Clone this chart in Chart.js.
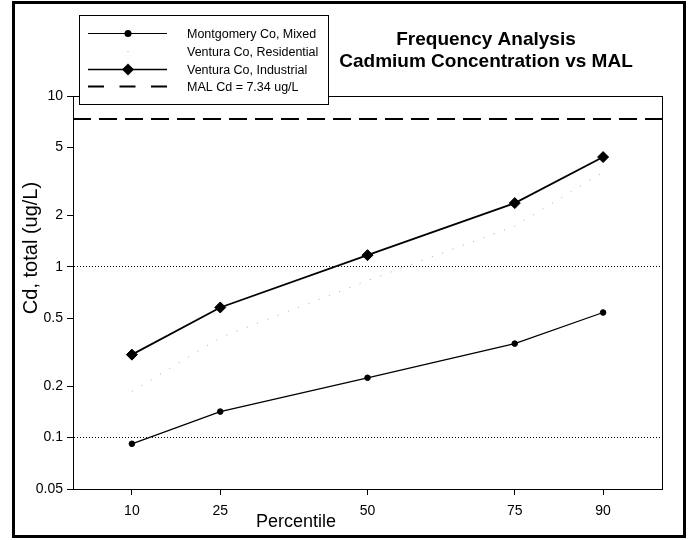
<!DOCTYPE html>
<html>
<head>
<meta charset="utf-8">
<title>Frequency Analysis - Cadmium Concentration vs MAL</title>
<script src="https://cdn.jsdelivr.net/npm/chart.js@4.4.1/dist/chart.umd.min.js"></script>
<style>
  html, body { margin: 0; padding: 0; background: #fff; }
  #wrap { width: 690px; height: 540px; }
</style>
</head>
<body>
<div id="wrap"><canvas id="grafico" width="690" height="540"></canvas></div>
<script>
// ============ DATA ============
const percentiles = [10, 25, 50, 75, 90];
const montgomeryMixed = [0.092, 0.142, 0.224, 0.355, 0.54];
const venturaResidential = [0.186, 0.385, 0.83, 1.73, 3.58];
const venturaIndustrial = [0.306, 0.578, 1.17, 2.36, 4.39];
const malValue = 7.34;
const xRange = [0, 100];
const xTicks = [10, 25, 50, 75, 90];
const yTicks = [0.05, 0.1, 0.2, 0.5, 1, 2, 5, 10];
const yGridValues = [0.1, 1];
const legendLabels = ['Montgomery Co, Mixed', 'Ventura Co, Residential', 'Ventura Co, Industrial', 'MAL Cd = 7.34 ug/L'];

const FONT = '"Liberation Sans", Arial, sans-serif';
Chart.defaults.font.family = FONT;
Chart.defaults.color = '#000';

const toPoints = vals => percentiles.map((p, i) => ({ x: p, y: vals[i] }));

// ============ PLUGINS ============
const fondo = {
    id: 'fondo',
    beforeDraw(chart) {
        const c = chart.ctx;
        c.save();
        c.fillStyle = '#fff';
        c.fillRect(0, 0, chart.width, chart.height);
        c.restore();
    }
};

const marco = {
    id: 'marco',
    afterDraw(chart) {
        const { ctx, chartArea: a } = chart;
        ctx.save();
        ctx.strokeStyle = '#000';
        ctx.setLineDash([]);

        // plot frame
        ctx.lineWidth = 1;
        ctx.strokeRect(a.left + 0.5, a.top + 0.5, a.right - a.left, a.bottom - a.top);

        // outer border
        ctx.lineWidth = 3;
        ctx.strokeRect(13.5, 2.5, 671, 534);

        // titles
        ctx.fillStyle = '#000';
        ctx.textAlign = 'center';
        ctx.textBaseline = 'alphabetic';
        ctx.font = 'bold 19px ' + FONT;
        ctx.fillText('Frequency Analysis', 486, 45);
        ctx.fillText('Cadmium Concentration vs MAL', 486, 67);

        // axis titles
        ctx.font = '18px ' + FONT;
        ctx.fillText('Percentile', 296, 527);
        ctx.save();
        ctx.translate(37, 248);
        ctx.rotate(-Math.PI / 2);
        ctx.font = '20px ' + FONT;
        ctx.fillText('Cd, total (ug/L)', 0, 0);
        ctx.restore();

        // legend box
        ctx.fillStyle = '#fff';
        ctx.fillRect(79.5, 15.5, 249, 89);
        ctx.lineWidth = 1;
        ctx.strokeRect(79.5, 15.5, 249, 89);

        const x1 = 88, x2 = 167, xm = 128;
        const rows = [33.5, 51.5, 69.5, 86.5];

        // Montgomery
        ctx.beginPath();
        ctx.moveTo(x1, rows[0]); ctx.lineTo(x2, rows[0]);
        ctx.stroke();
        ctx.fillStyle = '#000';
        ctx.beginPath();
        ctx.arc(xm, rows[0], 3.5, 0, Math.PI * 2);
        ctx.fill();

        // Residential
        ctx.fillStyle = '#aaa';
        ctx.fillRect(xm - 0.5, rows[1] - 0.5, 1, 1);

        // Industrial
        ctx.lineWidth = 1.5;
        ctx.beginPath();
        ctx.moveTo(x1, rows[2]); ctx.lineTo(x2, rows[2]);
        ctx.stroke();
        ctx.fillStyle = '#000';
        ctx.beginPath();
        ctx.moveTo(xm - 6, rows[2]);
        ctx.lineTo(xm, rows[2] - 6);
        ctx.lineTo(xm + 6, rows[2]);
        ctx.lineTo(xm, rows[2] + 6);
        ctx.closePath();
        ctx.fill();

        // MAL
        ctx.lineWidth = 2;
        ctx.setLineDash([16, 15.5]);
        ctx.beginPath();
        ctx.moveTo(x1, rows[3]); ctx.lineTo(x2, rows[3]);
        ctx.stroke();
        ctx.setLineDash([]);

        // legend text
        ctx.fillStyle = '#000';
        ctx.textAlign = 'left';
        ctx.font = '12.5px ' + FONT;
        const baselines = [38, 56, 74, 91];
        legendLabels.forEach((t, i) => ctx.fillText(t, 187, baselines[i]));

        ctx.restore();
    }
};

// ============ CHART ============
const chart = new Chart(document.getElementById('grafico'), {
    type: 'line',
    data: {
        datasets: [
            {
                label: legendLabels[0],
                data: toPoints(montgomeryMixed),
                borderColor: '#000',
                backgroundColor: '#000',
                borderWidth: 1.3,
                pointStyle: 'circle',
                pointRadius: 2.8,
                pointBorderWidth: 1,
                tension: 0
            },
            {
                label: legendLabels[1],
                data: toPoints(venturaResidential),
                borderColor: '#a8a8a8',
                backgroundColor: '#a8a8a8',
                borderWidth: 1,
                borderDash: [1, 10],
                pointRadius: 0,
                tension: 0
            },
            {
                label: legendLabels[2],
                data: toPoints(venturaIndustrial),
                borderColor: '#000',
                backgroundColor: '#000',
                borderWidth: 1.8,
                pointStyle: 'rectRot',
                pointRadius: 5.5,
                pointBorderWidth: 1,
                tension: 0
            },
            {
                label: legendLabels[3],
                data: xRange.map(x => ({ x: x, y: malValue })),
                borderColor: '#000',
                borderWidth: 2,
                borderDash: [18, 8],
                pointRadius: 0,
                tension: 0
            }
        ]
    },
    options: {
        responsive: false,
        animation: false,
        devicePixelRatio: 1,
        layout: { padding: { left: 0, top: 96, right: 28, bottom: 0 } },
        plugins: {
            legend: { display: false },
            tooltip: { enabled: false }
        },
        scales: {
            x: {
                type: 'linear',
                min: xRange[0],
                max: xRange[1],
                afterBuildTicks: s => { s.ticks = xTicks.map(v => ({ value: v })); },
                afterFit: s => { s.height = 51; },
                grid: { drawOnChartArea: false, tickLength: 6, tickColor: '#000', color: '#000' },
                border: { color: '#000', width: 1 },
                ticks: { color: '#000', font: { size: 14 }, padding: 8, maxRotation: 0, autoSkip: false, callback: v => String(v) }
            },
            y: {
                type: 'logarithmic',
                min: yTicks[0],
                max: yTicks[yTicks.length - 1],
                afterBuildTicks: s => { s.ticks = yTicks.map(v => ({ value: v })); },
                afterFit: s => { s.width = 73; },
                grid: {
                    color: c => (c.tick && yGridValues.includes(c.tick.value)) ? '#000' : 'rgba(0,0,0,0)',
                    tickColor: '#000',
                    tickLength: 6,
                    lineWidth: 1
                },
                border: { color: '#000', width: 1, dash: [1, 2] },
                ticks: { color: '#000', font: { size: 14 }, padding: 4, autoSkip: false, callback: v => String(v) }
            }
        }
    },
    plugins: [fondo, marco]
});
</script>
</body>
</html>
